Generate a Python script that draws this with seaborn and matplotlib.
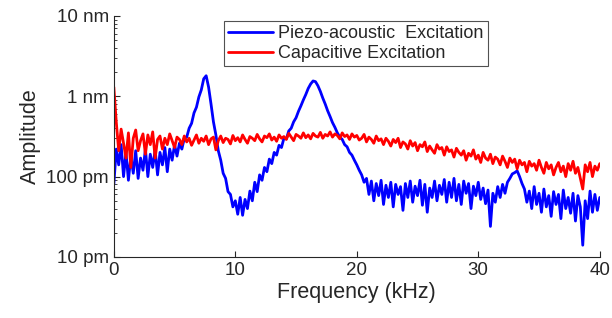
import numpy as np
import pandas as pd
import seaborn as sns
import matplotlib.pyplot as plt
from matplotlib.ticker import LogLocator, NullFormatter

# amplitude in pm, sampled every 0.2 kHz from 0 to 40 kHz
piezo_pm = [80, 220, 140, 250, 100, 200, 90, 180, 110, 210,
            95, 170, 120, 220, 100, 190, 130, 215, 105, 200,
            140, 230, 115, 220, 160, 250, 180, 260, 220, 300,
            310, 400, 460, 620, 730, 980, 1200, 1650, 1800, 1300,
            800, 480, 330, 210, 160, 110, 95, 65, 60, 42,
            50, 34, 55, 33, 52, 40, 66, 50, 85, 65,
            105, 90, 130, 115, 165, 145, 200, 185, 245, 230,
            300, 295, 370, 400, 480, 540, 650, 760, 900, 1050,
            1250, 1420, 1550, 1520, 1350, 1150, 950, 800, 660, 560,
            470, 410, 350, 310, 290, 250, 235, 200, 185, 160,
            140, 120, 105, 85, 95, 60, 88, 50, 82, 58,
            90, 45, 78, 55, 85, 42, 80, 60, 75, 38,
            82, 55, 88, 48, 76, 58, 90, 44, 80, 36,
            72, 55, 88, 50, 78, 60, 92, 48, 85, 55,
            95, 50, 80, 45, 88, 62, 82, 40, 76, 58,
            85, 52, 72, 46, 68, 24, 62, 48, 75, 55,
            80, 62, 85, 95, 108, 112, 118, 100, 82, 70,
            48, 66, 40, 75, 45, 62, 36, 70, 42, 58,
            32, 65, 45, 60, 30, 68, 40, 55, 35, 62,
            28, 58, 42, 14, 50, 30, 66, 36, 60, 38,
            55]

capacitive_pm = [1300, 480, 210, 390, 260, 170, 350, 130, 300, 380,
                 210, 280, 340, 190, 330, 250, 360, 170, 290, 320,
                 220, 300, 250, 340, 280, 230, 310, 290, 250, 320,
                 270, 300, 245, 285, 330, 260, 300, 275, 320, 250,
                 295, 310, 215, 280, 320, 265, 300, 290, 255, 325,
                 280, 305, 270, 330, 290, 260, 315, 300, 280, 335,
                 295, 270, 320, 305, 340, 285, 310, 275, 330, 300,
                 315, 290, 345, 310, 280, 335, 320, 300, 350, 305,
                 330, 295, 345, 320, 310, 355, 300, 335, 320, 360,
                 310, 340, 325, 295, 350, 315, 330, 290, 340, 310,
                 325, 285, 300, 335, 270, 310, 290, 260, 320, 280,
                 295, 250, 300, 275, 240, 290, 265, 300, 230, 270,
                 255, 220, 280, 240, 265, 210, 250, 235, 270, 205,
                 240, 215, 195, 250, 220, 230, 185, 235, 205, 215,
                 175, 225, 200, 185, 210, 160, 195, 180, 215, 165,
                 185, 150, 200, 170, 160, 190, 145, 175, 165, 140,
                 180, 155, 130, 170, 150, 165, 125, 160, 140, 150,
                 115, 155, 135, 145, 120, 160, 130, 110, 150, 125,
                 140, 105, 130, 150, 115, 135, 100, 145, 120, 155,
                 110, 130, 95, 70, 140, 115, 150, 100, 135, 120,
                 145]

freq_khz = np.linspace(0, 40, len(piezo_pm))

y_ticks = [10, 100, 1000, 10000]
y_labels = ["10 pm", "100 pm", "1 nm", "10 nm"]
x_ticks = [0, 10, 20, 30, 40]

sns.set_theme(style="ticks")
plt.rcParams["font.family"] = ["Liberation Sans", "DejaVu Sans"]
plt.rcParams["xtick.direction"] = "in"
plt.rcParams["ytick.direction"] = "in"

df = pd.DataFrame({"f": freq_khz, "piezo": piezo_pm, "cap": capacitive_pm})

fig = plt.figure(figsize=(6.12, 3.18), dpi=100)
ax = fig.add_axes([0.186, 0.192, 0.794, 0.758])

sns.lineplot(data=df, x="f", y="piezo", color="#0000ff", linewidth=2.0,
             label="Piezo-acoustic  Excitation", ax=ax)
sns.lineplot(data=df, x="f", y="cap", color="#ff0000", linewidth=2.0,
             label="Capacitive Excitation", ax=ax)

ax.set_yscale("log")
ax.set_ylim(10, 10000)
ax.set_xlim(0, 40)
ax.set_yticks(y_ticks)
ax.set_yticklabels(y_labels)
ax.yaxis.set_minor_locator(LogLocator(base=10, subs=np.arange(2, 10)))
ax.yaxis.set_minor_formatter(NullFormatter())
ax.set_xticks(x_ticks)

ax.set_xlabel("Frequency (kHz)", fontsize=15.5, color="#262626", labelpad=2)
ax.set_ylabel("Amplitude", fontsize=15.5, color="#262626", labelpad=4)
ax.tick_params(axis="both", which="major", labelsize=13.5, length=4, width=0.8,
               colors="#262626", top=False, right=False)
ax.tick_params(axis="y", which="minor", length=2.5, width=0.6, colors="#262626")

sns.despine(ax=ax)
for s in ["left", "bottom"]:
    ax.spines[s].set_color("#262626")
    ax.spines[s].set_linewidth(0.8)

leg = ax.legend(loc="upper left", bbox_to_anchor=(0.226, 0.98), frameon=True,
                fancybox=False, fontsize=13, handlelength=2.5,
                borderpad=0.25, labelspacing=0.15, handletextpad=0.25,
                borderaxespad=0)
leg.get_frame().set_edgecolor("#262626")
leg.get_frame().set_linewidth(0.8)
for line in leg.get_lines():
    line.set_linewidth(2)

plt.savefig("out.png", dpi=100)
